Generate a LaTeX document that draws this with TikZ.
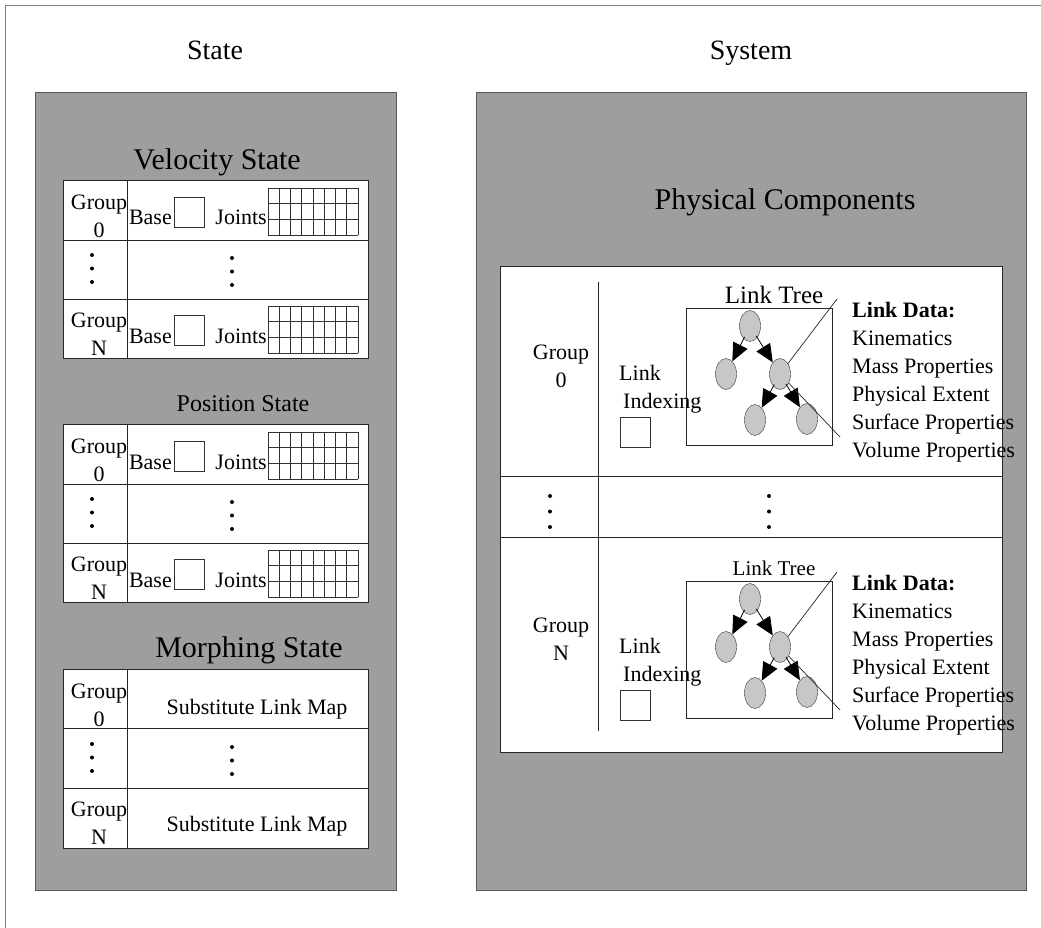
\documentclass[tikz,border=0pt]{standalone}
\usepackage{fontspec}
\setmainfont{Liberation Serif}
\usepackage{tikz}
\usetikzlibrary{shapes.geometric, arrows.meta, positioning}

\begin{document}
\begin{tikzpicture}[
    x=1pt, y=-1pt,
    panel/.style={rectangle, draw=black!65, fill=black!38, line width=0.8pt, inner sep=0pt, anchor=north west},
    sheet/.style={rectangle, draw=black!85, fill=white, line width=0.8pt, inner sep=0pt, anchor=north west},
    bigtitle/.style={font=\fontsize{28}{34}\selectfont, inner sep=0pt, anchor=base},
    heading/.style={font=\fontsize{30}{36}\selectfont, inner sep=0pt, anchor=base},
    txt/.style={font=\fontsize{22}{28}\selectfont, inner sep=0pt},
    grp/.style={txt, align=center},
    cellbox/.style={rectangle, draw=black!80, fill=white, minimum size=30pt, inner sep=0pt},
    treebox/.style={rectangle, draw=black!85, line width=0.8pt, minimum width=146pt, minimum height=137pt},
    linknode/.style={ellipse, draw=black!80, fill=black!22, minimum width=21pt, minimum height=31pt, inner sep=0pt},
    treearr/.style={-{Triangle[length=18pt, width=16pt]}, line width=0.8pt, shorten <=-2pt},
    rule/.style={draw=black!85, line width=0.8pt},
    gridline/.style={draw=black!80, line width=0.7pt}
  ]
  \useasboundingbox (0,0) rectangle (1041,928);
  \draw[black!50, line width=0.6pt] (5,928) -- (5,5) -- (1041,5);

  % column titles
  \node[bigtitle] (statett) at (215,60) {State};
  \node[bigtitle] (systt) at (751,60) {System};

  \node[panel, minimum width=361pt, minimum height=798pt] (statepnl) at (35,92) {};
  \node[panel, minimum width=550pt, minimum height=798pt] (syspnl) at (476,92) {};

  % state side
  \node[heading] (velhd) at (217,170) {Velocity State};
  \node[heading, font=\fontsize{24}{29}\selectfont] (poshd) at (243,411) {Position State};
  \node[heading] (morhd) at (249,657) {Morphing State};

  \foreach \tb/\T in {vel/180, pos/424} {
    \node[sheet, minimum width=305pt, minimum height=178pt] (\tb) at (63,\T) {};
    \draw[rule] (127,\T) -- (127,\T+178);
    \draw[rule] (63,\T+60) -- (368,\T+60);
    \draw[rule] (63,\T+119) -- (368,\T+119);
    \foreach \r/\off in {0/0, N/118} {
      \node[grp] (\tb-g\r) at (99,\T+36+\off) {Group\\\r};
      \node[txt, anchor=base east] (\tb-bl\r) at (172,\T+45+\off) {Base};
      \node[cellbox] (\tb-b\r) at (189,\T+32+\off) {};
      \node[txt, anchor=base east] (\tb-jl\r) at (267,\T+45+\off) {Joints};
      \foreach \i in {0,...,8}
        \draw[gridline] (268+\i*11.25,\T+8+\off) -- ++(0,47);
      \foreach \j in {0,...,3}
        \draw[gridline] (268,\T+8+\off+\j*15.67) -- ++(90,0);
    }
    \foreach \k in {0,1,2} {
      \fill (92,\T+75+\k*13.5) circle (2pt);
      \fill (232,\T+78+\k*13.5) circle (2pt);
    }
  }

  \node[sheet, minimum width=305pt, minimum height=179pt] (mor) at (63,669) {};
  \draw[rule] (127,669) -- (127,848);
  \draw[rule] (63,728) -- (368,728);
  \draw[rule] (63,788) -- (368,788);
  \node[grp] (mor-g0) at (99,705) {Group\\0};
  \node[txt] (mor-m0) at (257,709) {Substitute Link Map};
  \node[grp] (mor-gN) at (99,823) {Group\\N};
  \node[txt] (mor-mN) at (257,826) {Substitute Link Map};
  \foreach \k in {0,1,2} {
    \fill (92,744+\k*13.5) circle (2pt);
    \fill (232,747+\k*13.5) circle (2pt);
  }

  % system side
  \node[heading] (physhd) at (785,210) {Physical Components};
  \node[sheet, minimum width=502pt, minimum height=486pt] (comp) at (500,266) {};
  \draw[rule] (598,282) -- (598,731);
  \draw[rule] (500,476) -- (1002,476);
  \draw[rule] (500,537) -- (1002,537);
  \foreach \k in {0,1,2} {
    \fill (550,496+\k*15.5) circle (2pt);
    \fill (769,496+\k*15.5) circle (2pt);
  }

  \foreach \g/\dy/\fs in {0/273/25, N/0/21} {
    \node[grp] (grp\g) at (561,639-\dy) {Group\\\g};
    \node[txt, align=left, anchor=west] (idx\g) at (619,662-\dy) {Link\\\hspace*{4pt}Indexing};
    \node[cellbox] (idxbox\g) at (635,705-\dy) {};
    \node[txt, font=\fontsize{\fs}{\fs}\selectfont] (lttl\g) at (774,568-\dy) {Link Tree};
    \node[treebox] (ltbox\g) at (759,650-\dy) {};
    \node[linknode] (root\g) at (750,599-\dy) {};
    \node[linknode] (lft\g) at (726,647-\dy) {};
    \node[linknode] (mid\g) at (780,647-\dy) {};
    \node[linknode] (bl\g) at (755,693-\dy) {};
    \node[linknode] (br\g) at (807,692-\dy) {};
    \draw[treearr] (root\g) -- (lft\g);
    \draw[treearr] (root\g) -- (mid\g);
    \draw[treearr] (mid\g) -- (bl\g);
    \draw[treearr] (mid\g) -- (br\g);
    \coordinate (up\g) at (837,572-\dy);
    \coordinate (dn\g) at (840,710-\dy);
    \draw[black!85, line width=0.7pt] (mid\g) -- (up\g);
    \draw[black!85, line width=0.7pt] (mid\g) -- (dn\g);
    \node[txt, align=left, anchor=north west] (ldata\g) at (852,575-\dy)
      {\textbf{Link Data:}\\Kinematics\\Mass Properties\\Physical Extent\\Surface Properties\\Volume Properties};
  }
\end{tikzpicture}
\end{document}
